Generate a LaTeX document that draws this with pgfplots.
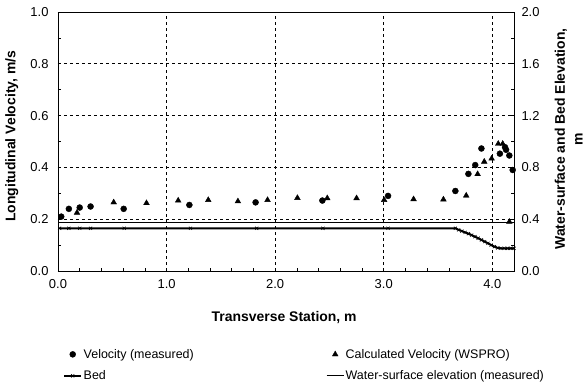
\documentclass[border=0pt]{standalone}
\usepackage{fontspec}
\setmainfont{Liberation Sans}
\usepackage{pgfplots}
\pgfplotsset{compat=1.18}
\newcommand\tickfont{\fontsize{13}{15}\selectfont}
\newcommand\labfont{\fontsize{14}{18}\selectfont\bfseries}
\newcommand\legfont{\fontsize{12.5}{15}\selectfont}
\pgfplotsset{
  common/.style={
    scale only axis, width=456bp, height=259bp,
    xmin=0, xmax=4.2, clip=false,
    tick align=inside, major tick length=3bp, minor tick length=3bp,
    axis line style={black, line width=0.8bp},
    tick style={black, line width=0.6bp},
    ticklabel style={font=\tickfont},
    /pgf/number format/.cd, fixed, fixed zerofill, precision=1, assume math mode=true,
  }
}
\begin{document}
\begin{tikzpicture}
\useasboundingbox (-58bp,-121bp) rectangle (527bp,271bp);
\begin{axis}[common,
  ymin=0, ymax=1,
  xtick={0,1,2,3,4}, ytick={0,0.2,0.4,0.6,0.8,1},
  minor x tick num=4, minor y tick num=1,
  xtick pos=bottom, ytick pos=left,
  grid=major, major grid style={black, dash pattern=on 3bp off 3bp, line width=0.6bp},
  xticklabel style={yshift=-5bp},
  yticklabel style={xshift=-6bp},
  xlabel={Transverse Station, m},
  ylabel={Longitudinal Velocity, m/s},
  every axis x label/.style={at={(axis description cs:0.496,-0.18)}, anchor=center, font=\labfont},
  every axis y label/.style={at={(axis description cs:-0.1015,0.52)}, anchor=center, rotate=90, font=\labfont},
  legend style={at={(axis description cs:0.011,-0.295)}, anchor=north west, draw=none, fill=none,
    font=\legfont, inner sep=0pt, row sep=8bp, nodes={inner sep=1.5bp}},
  legend columns=2,
  legend cell align=left,
  /tikz/every even column/.append style={column sep=131bp},
]
\addplot[only marks, mark=*, mark size=3bp, black] coordinates {
(0.03,0.21) (0.10,0.24) (0.20,0.245) (0.30,0.249) (0.605,0.24) (1.21,0.255)
(1.82,0.265) (2.435,0.272) (3.04,0.29) (3.66,0.309) (3.78,0.375) (3.843,0.409)
(3.90,0.473) (4.07,0.453) (4.117,0.478) (4.127,0.468) (4.157,0.446) (4.188,0.39)
};
\addlegendentry{Velocity (measured)}
\addplot[only marks, mark=triangle*, mark size=3.3bp, black] coordinates {
(0.175,0.225) (0.513,0.265) (0.815,0.262) (1.107,0.272) (1.384,0.274) (1.657,0.269)
(1.93,0.274) (2.205,0.282) (2.48,0.281) (2.75,0.281) (3.004,0.274) (3.275,0.277)
(3.55,0.276) (3.76,0.291) (3.865,0.374) (3.926,0.422) (3.994,0.434) (4.055,0.491)
(4.096,0.491) (4.157,0.19)
};
\addlegendentry{Calculated Velocity (WSPRO)}
\addlegendimage{black, line width=2bp, mark=x, mark size=2.2bp, mark options={line width=0.6bp}}
\addlegendentry{Bed}
\addlegendimage{black, line width=0.9bp}
\addlegendentry{Water-surface elevation (measured)}
\end{axis}
\begin{axis}[common,
  ymin=0, ymax=2,
  axis x line=none, axis y line*=right,
  ytick={0,0.4,0.8,1.2,1.6,2.0}, minor y tick num=1,
  tick align=inside,
  yticklabel style={xshift=4bp},
  ylabel={Water-surface and Bed Elevation,\\m},
  every axis y label/.style={at={(axis description cs:1.12,0.51)}, anchor=center, rotate=90, align=center, font=\labfont},
]
\addplot[black, line width=0.9bp] coordinates {(0,0.373) (4.2,0.373)};
\addplot[black, line width=2bp, mark=x, mark size=2.2bp, mark options={line width=0.6bp}] coordinates {
(0.015,0.330) (0.10,0.330) (0.20,0.330) (0.30,0.330) (0.61,0.330) (1.22,0.330)
(1.83,0.330) (2.44,0.330) (3.04,0.330) (3.66,0.330) (3.69,0.318) (3.72,0.308)
(3.75,0.298) (3.78,0.288) (3.81,0.277) (3.84,0.265) (3.87,0.253) (3.90,0.240)
(3.93,0.227) (3.96,0.214) (3.99,0.200) (4.02,0.188) (4.05,0.178) (4.08,0.175)
(4.11,0.175) (4.14,0.175) (4.17,0.175) (4.20,0.175)
};
\end{axis}
\end{tikzpicture}
\end{document}
